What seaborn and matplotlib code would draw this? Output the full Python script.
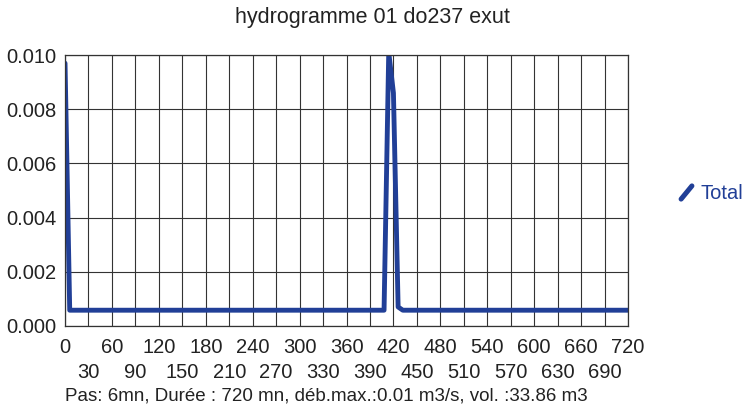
import matplotlib
matplotlib.use("Agg")
import matplotlib.pyplot as plt
from matplotlib.lines import Line2D
from matplotlib.markers import MarkerStyle
import seaborn as sns
import pandas as pd

# Data (minutes, m3/s) - breakpoints of the hydrograph (6 mn step)
time_mn = [0, 6, 408, 414, 420, 426, 432, 720]
flow_total = [0.0097, 0.00058, 0.00058, 0.0101, 0.0086, 0.0007, 0.00058, 0.00058]
x_major = list(range(0, 721, 60))
x_minor = list(range(30, 720, 60))
y_ticks = [0.000, 0.002, 0.004, 0.006, 0.008, 0.010]
title = "hydrogramme 01 do237 exut"
footer = "Pas: 6mn, Durée : 720 mn, déb.max.:0.01 m3/s, vol. :33.86 m3"
series_name = "Total"

df = pd.DataFrame({"t": time_mn, "q": flow_total})

sns.set_theme(style="white")
plt.rcParams["font.family"] = ["Liberation Sans", "DejaVu Sans"]

fig = plt.figure(figsize=(7.44, 4.11), dpi=100)
ax = fig.add_axes([0.0874, 0.207, 0.7567, 0.659])
line_color = "#213f97"
text_color = "#222222"
sns.lineplot(data=df, x="t", y="q", ax=ax, color=line_color, linewidth=3.5,
             solid_joinstyle="round", solid_capstyle="round", legend=False)

ax.set_xlim(0, 720)
ax.set_ylim(0, 0.010)
ax.set_xticks(x_major)
ax.set_xticklabels([str(v) for v in x_major])
ax.set_xticks(x_minor, minor=True)
ax.set_xticklabels([str(v) for v in x_minor], minor=True)
ax.set_yticks(y_ticks)
ax.set_yticklabels([f"{v:.3f}" for v in y_ticks])
ax.tick_params(axis="x", which="major", labelsize=14.5, length=0, pad=9, colors=text_color)
ax.tick_params(axis="x", which="minor", labelsize=14.5, length=0, pad=27, colors=text_color)
ax.tick_params(axis="y", labelsize=14.5, length=0, pad=6, colors=text_color)
ax.grid(True, which="both", color="#333333", linewidth=0.8)
for s in ax.spines.values():
    s.set_color("#333333")
    s.set_linewidth(0.9)
ax.set_xlabel("")
ax.set_ylabel("")

fig.text(0.5007, 1 - 18 / 411, title, fontsize=15.5, color=text_color,
         ha="center", va="center")

marker = MarkerStyle([(-0.41, -0.5), (0.41, 0.5)], capstyle="round")
handle = Line2D([], [], linestyle="none", marker=marker, markersize=9.5,
                markeredgewidth=3.6, markeredgecolor=line_color, color=line_color)
leg = ax.legend([handle], [series_name], loc="center left",
                bbox_to_anchor=(1.086, 0.49), frameon=False, fontsize=14.5,
                handletextpad=0.2, handlelength=1.0, borderpad=0, borderaxespad=0)
for t in leg.get_texts():
    t.set_color(line_color)

fig.text(0.0874, 1 - 396 / 411, footer, fontsize=13.5, color=text_color, va="center")
fig.savefig("out.png", dpi=100, facecolor="white")
